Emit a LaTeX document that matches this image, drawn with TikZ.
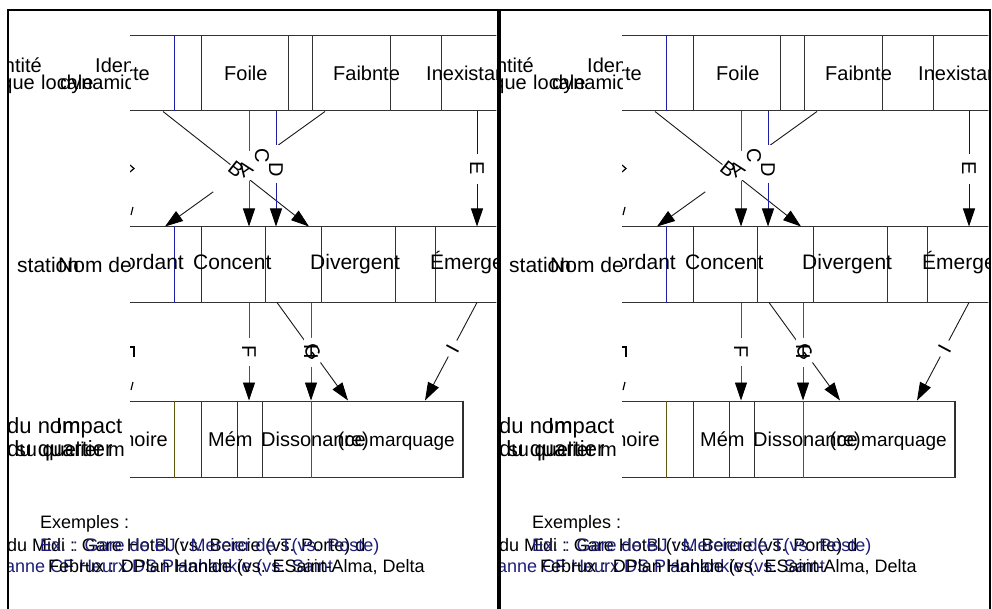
\documentclass[tikz,border=0pt]{standalone}
\usepackage{fontspec}
\setmainfont{Liberation Sans}
\usetikzlibrary{arrows.meta}

\definecolor{ruleblue}{RGB}{30,30,165}
\definecolor{ruleolive}{RGB}{95,88,10}
\definecolor{inknavy}{RGB}{30,30,120}

\tikzset{
  panelframe/.style={line width=2pt, draw=black},
  rowbox/.style={draw=black!80, line width=1pt, inner sep=0pt, anchor=north west, minimum height=75pt},
  divider/.style={draw=black!80, line width=1pt},
  bluedivider/.style={draw=ruleblue, line width=1pt},
  olivedivider/.style={draw=ruleolive, line width=1pt},
  link/.style={draw=black!90, line width=0.9pt, -{Triangle[length=18pt,width=12pt,color=black]}},
  gapbox/.style={fill=white, draw=none, inner sep=0pt},
  tag/.style={inner sep=0pt, font=\fontsize{20}{24}\selectfont},
  word/.style={inner sep=0pt, anchor=base west},
  wordr/.style={inner sep=0pt, anchor=base east},
  f18/.style={font=\fontsize{18}{21}\selectfont},
  f19/.style={font=\fontsize{19}{22}\selectfont},
  f20/.style={font=\fontsize{20}{24}\selectfont},
  f21/.style={font=\fontsize{21}{25}\selectfont},
  f22/.style={font=\fontsize{22}{26}\selectfont},
  fragment/.style={line width=1.2pt, line cap=butt},
}

% One framed panel; #1 = horizontal offset, #2 = name prefix
\newcommand\drawpanel[2]{%
\begin{scope}[xshift=#1pt, name prefix=#2-]
  \begin{scope}
    \clip (8.6,11.6) rectangle (496.4,609);
    % row headings in the left column
    \begin{scope}
      \clip (8.6,11.6) rectangle (130,480);
      \node[wordr,f20] (id1) at (42,73) {Identité};
      \node[word,f20] (id2) at (95,73) {Identité};
      \node[wordr,f20] (topo) at (35,90) {topologique};
      \node[word,f20] (loc) at (41,90) {locale};
      \node[word,f20] (dyn) at (60,90) {dynamique};
      \node[word,f21] (sta) at (17,273) {station};
      \node[word,f21] (nom) at (58,273) {Nom de};
      \node[word,f22] (dunom) at (7,433) {du nom};
      \node[word,f22] (imp) at (56,433) {Impact};
      \node[word,f22] (quart) at (7,456) {du quartier};
      \node[wordr,f20] (quartb) at (125,456) {su quelier m};
    \end{scope}
    % the three rows of categories
    \begin{scope}
      \clip (130,11.6) rectangle (496.4,609);
      \node[rowbox, minimum width=420pt] (row1) at (100,35.5) {};
      \node[rowbox, minimum width=420pt] (row2) at (100,226.5) {};
      \node[rowbox, minimum width=362pt, minimum height=76.5pt] (row3) at (100,400.5) {};
      \draw[bluedivider] (row3.north east) -- (row3.south east);
      % cell dividers
      \foreach \x/\s in {174/bluedivider,201/bluedivider,288/divider,312/divider,390/divider,441/divider}
        \draw[\s] (\x,0 |- row1.north) -- (\x,0 |- row1.south);
      \foreach \x/\s in {174/bluedivider,201/bluedivider,265.5/divider,321/divider,395/divider,435/divider}
        \draw[\s] (\x,0 |- row2.north) -- (\x,0 |- row2.south);
      \foreach \x/\s in {174.5/olivedivider,201.7/divider,237.7/divider,262.7/divider,311.7/olivedivider}
        \draw[\s] (\x,0 |- row3.north) -- (\x,0 |- row3.south);
      % cell texts
      \node[wordr,f20] (c11) at (150,81) {Forte};
      \node[word,f20] (c12) at (224,81) {Foile};
      \node[word,f20] (c13) at (333,81) {Faibnte};
      \node[word,f20] (c14) at (426,81) {Inexistante};
      \node[wordr,f21] (c21) at (184,270) {Concordant};
      \node[word,f21] (c22) at (193,270) {Concent};
      \node[word,f21] (c23) at (310,270) {Divergent};
      \node[word,f21] (c24) at (430,270) {Émergent};
      \node[wordr,f20] (c31) at (168,446.7) {Mémoire};
      \node[word,f20] (c32) at (208,446.7) {Mém};
      \node[word,f20] (c33) at (261,446.7) {Dissonance};
      \node[wordr,f20] (c34) at (369,446.7) {(re)};
      \node[word,f19] (c35) at (369,446.7) {marquage};
      % connectors from row 1 to row 2
      \draw[link] (163,0 |- row1.south) -- (309,0 |- row2.north);
      \draw[link] (325,0 |- row1.south) -- (165,0 |- row2.north);
      \draw[link, draw=ruleolive] (249,0 |- row1.south) -- (249,0 |- row2.north);
      \draw[link, draw=ruleblue] (276,0 |- row1.south) -- (276,0 |- row2.north);
      \draw[link] (477,0 |- row1.south) -- (477,0 |- row2.north);
      % connectors from row 2 to row 3
      \draw[link, draw=ruleolive] (249,0 |- row2.south) -- (249,0 |- row3.north);
      \draw[link] (277,0 |- row2.south) -- (348,0 |- row3.north);
      \draw[link, draw=ruleolive] (311,0 |- row2.south) -- (311,0 |- row3.north);
      \draw[link] (477,0 |- row2.south) -- (425,0 |- row3.north);
      % white patches behind the connector labels
      \path (325,0 |- row1.south) -- node[gapbox, sloped, minimum width=78pt, minimum height=24pt] {} (165,0 |- row2.north);
      \path (276,0 |- row1.south) -- node[gapbox, pos=0.46, minimum width=14pt, minimum height=38pt] {} (276,0 |- row2.north);
      \path (477,0 |- row1.south) -- node[gapbox, pos=0.5, minimum width=14pt, minimum height=30pt] {} (477,0 |- row2.north);
      \path (249,0 |- row2.south) -- node[gapbox, pos=0.5, minimum width=14pt, minimum height=28pt] {} (249,0 |- row3.north);
      \path (277,0 |- row2.south) -- node[gapbox, sloped, minimum width=27pt, minimum height=14pt] {} (348,0 |- row3.north);
      \path (311,0 |- row2.south) -- node[gapbox, pos=0.515, minimum width=14pt, minimum height=29pt] {} (311,0 |- row3.north);
      \path (477,0 |- row2.south) -- node[gapbox, sloped, pos=0.47, minimum width=18pt, minimum height=14pt] {} (425,0 |- row3.north);
      % connector labels
      \path (163,0 |- row1.south) -- node[tag, sloped] (lb) {B} (309,0 |- row2.north);
      \path (325,0 |- row1.south) -- node[tag, sloped] (la) {A} (165,0 |- row2.north);
      \node[tag, rotate=-90] (lc) at (262,156) {C};
      \node[tag, rotate=-90] (ld) at (276,170) {D};
      \node[tag, rotate=-90] (le) at (477,168) {E};
      \node[tag, rotate=-90] (lf) at (249,352) {F};
      \path (277,0 |- row2.south) -- node[tag, sloped] (lg) {G} (348,0 |- row3.north);
      \node[tag, rotate=-90] (lh) at (311,352) {H};
      \path (477,0 |- row2.south) -- node[tag, sloped, pos=0.47] (li) {I} (425,0 |- row3.north);
      % stray marks at the left edge of the rows
      \draw[fragment] (130,165) -- (134,168.5) -- (130,172);
      \draw[fragment] (131,215) -- (133,207);
      \draw[fragment] (130,347) -- (134,347) -- (134,357);
      \draw[fragment] (131,390) -- (133,382);
    \end{scope}
    % examples
    \node[word,f18] (ex) at (40,528) {Exemples :};
    \node[word,f18] (ex1) at (7,551) {du Midi : Gare Hotel (vs. Bercie (vs. Porte) d};
    \node[word,f18,text=inknavy] (ex2) at (40,551) {Ex. : Gare de BJ : Mercier de T(vs. Poste)};
    \node[word,f18,text=inknavy] (ex3) at (-14,572) {Jeanne CF Heurx DS Planhankie (vs. Saint};
    \node[word,f18] (ex4) at (48,572) {Februx : DPlan Hanlde (vs. ESaint-Alma, Delta};
  \end{scope}
  \draw[panelframe] (7.5,609) -- (7.5,10.5) -- (497.5,10.5) -- (497.5,609);
\end{scope}}

\begin{document}
\begin{tikzpicture}[x=1pt,y=-1pt]
  \useasboundingbox (0,0) rectangle (992,609);
  \fill[white] (0,0) rectangle (992,609);
  \drawpanel{0}{L}
  \drawpanel{492}{R}
\end{tikzpicture}
\end{document}
